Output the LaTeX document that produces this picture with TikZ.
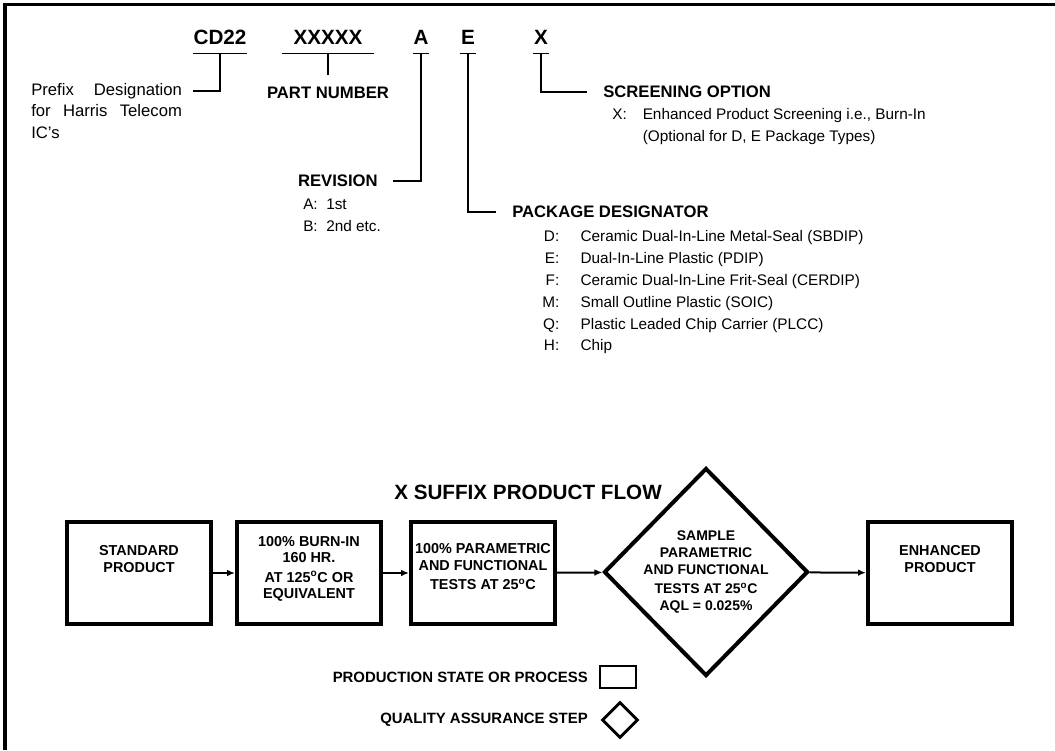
\documentclass[tikz,border=0pt]{standalone}
\usepackage{fontspec}
\setmainfont{Liberation Sans}
\usetikzlibrary{arrows.meta,positioning,shapes.geometric}
\tikzset{
  >={Latex[length=6pt,width=5pt]},
  code/.style    ={font=\fontsize{15.5}{18}\selectfont\bfseries,text height=11.1pt,
                   text depth=0pt,inner ysep=6.4pt,inner xsep=0pt},
  head/.style    ={font=\fontsize{12.5}{14}\selectfont\bfseries,inner sep=0pt},
  body/.style    ={font=\fontsize{11.5}{16.4}\selectfont,inner sep=0pt,align=left},
  lead/.style    ={line width=0.9pt},
  procbox/.style ={draw,line width=3pt,minimum width=108pt,minimum height=76.5pt,
                   font=\fontsize{10.8}{12.5}\selectfont\bfseries,align=center,inner sep=0pt},
  qadiam/.style  ={draw,diamond,line width=3pt,minimum width=153pt,minimum height=156pt,
                   inner sep=0pt},
  qatext/.style  ={font=\fontsize{10.5}{12.5}\selectfont\bfseries,align=center,inner sep=0pt},
  legend/.style  ={font=\fontsize{11.2}{13}\selectfont\bfseries,inner sep=0pt,anchor=east},
  flow/.style    ={->,line width=1.5pt},
}
\newcommand{\degc}{\textsuperscript{o}C}

\begin{document}
\begin{tikzpicture}[x=0.75pt,y=-0.75pt]
\useasboundingbox (0,0) rectangle (1055,750);
% frame
\draw[line width=2.3pt] (5,750) -- (5,4.5) -- (1055,4.5);
% part code
\node[code,minimum width=40.5pt] (cd) at (220,37) {CD22};
\node[code,minimum width=68pt]   (pn) at (328,37) {XXXXX};
\node[code,minimum width=12pt]   (rv) at (421,37) {A};
\node[code,minimum width=12pt]   (pk) at (468,37) {E};
\node[code,minimum width=12pt]   (sc) at (541,37) {X};
\foreach \n in {cd,pn,rv,pk,sc}
  \draw[lead] (\n.south west) -- (\n.south east);
% fields
\node[body,font=\fontsize{12.5}{16.2}\selectfont,anchor=north west,text width=113pt,
      align=justify] (pfx) at (31,83)
  {Prefix Designation\linebreak for Harris Telecom\linebreak IC's};
\coordinate (pfxend) at (193,91);
\draw[lead] (cd.south) |- (pfxend);
\node[head] (pnlbl) at (328,93) {PART NUMBER};
\draw[lead] (pn.south) -- ([yshift=9pt]pnlbl.north);
\node[head,anchor=east] (rvlbl) at (378,181) {REVISION};
\draw[lead] (rv.south) |- ([xshift=11pt]rvlbl.east);
\node[body,anchor=north west] (rvlist) at (303,199)
  {A:\ \ 1st\\ B:\ \ 2nd etc.};
\node[head,anchor=west] (pklbl) at (512,212) {PACKAGE DESIGNATOR};
\draw[lead] (pk.south) |- ([xshift=-12pt]pklbl.west);
\node[body,anchor=north west] (pklist) at (542,226)
  {\begin{tabular}{@{}r@{\hspace{16pt}}l@{}}
   D: & Ceramic Dual-In-Line Metal-Seal (SBDIP)\\
   E: & Dual-In-Line Plastic (PDIP)\\
   F: & Ceramic Dual-In-Line Frit-Seal (CERDIP)\\
   M: & Small Outline Plastic (SOIC)\\
   Q: & Plastic Leaded Chip Carrier (PLCC)\\
   H: & Chip
   \end{tabular}};
\node[head,anchor=west] (sclbl) at (603,92) {SCREENING OPTION};
\draw[lead] (sc.south) |- ([xshift=-12pt]sclbl.west);
\node[body,anchor=north west] (sclist) at (612,104)
  {\begin{tabular}{@{}l@{\hspace{12pt}}l@{}}
   X: & Enhanced Product Screening i.e., Burn-In\\
      & (Optional for D, E Package Types)
   \end{tabular}};
% flow
\node[font=\fontsize{15.5}{18}\selectfont\bfseries] (ttl) at (528,492) {X SUFFIX PRODUCT FLOW};
\node[procbox] (std) at (139,573) {STANDARD\\PRODUCT\\[9pt]\mbox{}};
\node[procbox] (bin) at (309,573) {100\% BURN-IN\\160 HR.\\[2pt]AT 125\degc{} OR\\EQUIVALENT\\[-4pt]\mbox{}};
\node[procbox] (par) at (483,573) {100\% PARAMETRIC\\AND FUNCTIONAL\\[2pt]TESTS AT 25\degc\\[-3pt]\mbox{}};
\node[qadiam] (smp) at (706,572) {};
\node[qatext] at (smp) {SAMPLE\\PARAMETRIC\\AND FUNCTIONAL\\[2pt]TESTS AT 25\degc\\AQL = 0.025\%};
\node[procbox] (enh) at (940,573) {ENHANCED\\PRODUCT\\[9pt]\mbox{}};
\draw[flow] (std) -- (bin);
\draw[flow] (bin) -- (par);
\draw[flow] (par) -- (smp);
\draw[flow] (smp) -- (enh);
% legend
\node[legend] (lgp) at (588,677) {PRODUCTION STATE OR PROCESS};
\node[draw,line width=2.2pt,minimum width=27pt,minimum height=16.5pt,inner sep=0pt] (lgbox) at (618,677) {};
\node[legend] (lgq) at (588,720) {QUALITY ASSURANCE STEP};
\node[draw,diamond,line width=2.2pt,minimum width=27pt,minimum height=27pt,inner sep=0pt] (lgdia) at (620,720) {};
\end{tikzpicture}
\end{document}
